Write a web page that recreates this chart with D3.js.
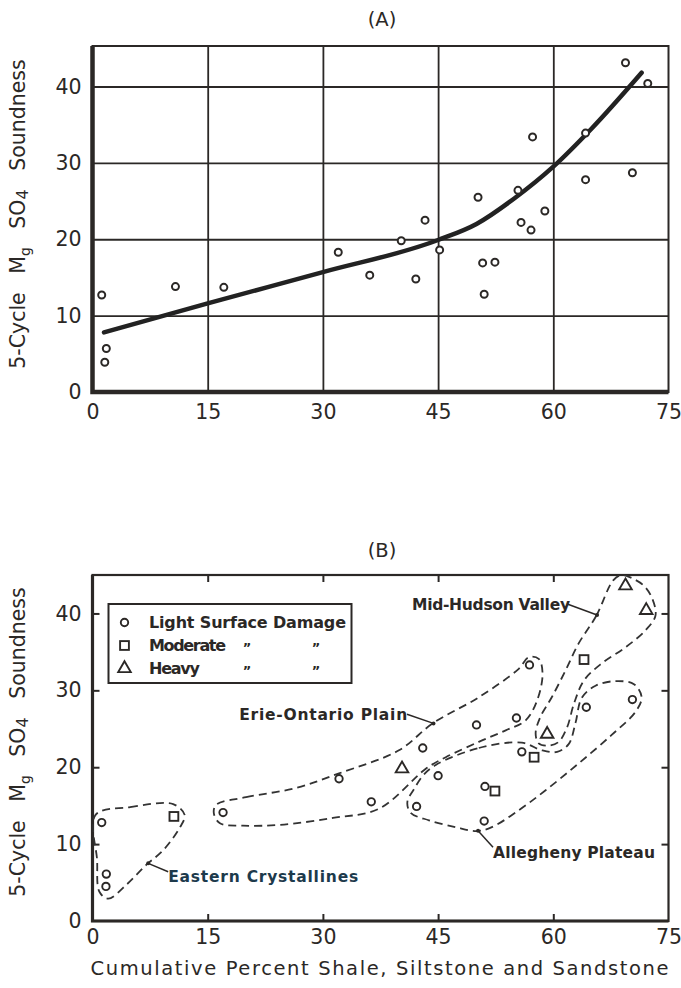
<!DOCTYPE html>
<html>
<head>
<meta charset="utf-8">
<script src="https://cdn.jsdelivr.net/npm/d3@7.9.0/dist/d3.min.js"></script>
<style>
  body { margin: 0; background: #fff; }
  svg { display: block; }
  text { font-family: "DejaVu Sans", sans-serif; fill: #2b2826; }
</style>
</head>
<body>
<div id="chart"></div>
<script>
// ---- data ----
const xTicks = [0, 15, 30, 45, 60, 75];
const yTicks = [0, 10, 20, 30, 40];

// (A) all samples: percent shale etc. vs 5-cycle loss
const samplePct  = [1.2, 1.8, 1.6, 10.8, 17.1, 32.0, 36.1, 40.2, 43.3, 42.1, 45.2, 50.2, 50.8,
                    52.4, 51.0, 57.3, 55.4, 55.8, 57.1, 58.9, 64.2, 64.2, 69.4, 72.3, 70.3];
const sampleLoss = [12.7, 5.7, 3.9, 13.8, 13.7, 18.3, 15.3, 19.8, 22.5, 14.8, 18.6, 25.5, 16.9,
                    17.0, 12.8, 33.4, 26.4, 22.2, 21.2, 23.7, 33.9, 27.8, 43.1, 40.4, 28.7];

// (A) fitted trend curve
const trendPct  = [1.5, 15, 30, 45, 50, 55, 60, 65, 71.5];
const trendLoss = [7.8, 11.6, 15.7, 19.9, 22.0, 25.4, 29.5, 34.5, 41.8];

// (B) samples by surface damage (0 light, 1 moderate, 2 heavy)
const damageNames = ["Light Surface Damage", "Moderate", "Heavy"];
const damagePct   = [1.2, 1.8, 1.75, 17.0, 32.1, 36.3, 43.0, 45.0, 42.2, 50.0, 51.1, 51.0, 56.9,
                     55.2, 55.9, 64.3, 70.3, 10.6, 52.4, 57.5, 64.0, 40.3, 59.2, 69.4, 72.1];
const damageLoss  = [12.8, 6.1, 4.5, 14.1, 18.5, 15.5, 22.5, 18.9, 14.9, 25.5, 17.5, 13.0, 33.3,
                     26.4, 22.0, 27.8, 28.8, 13.6, 16.9, 21.3, 34.0, 19.8, 24.3, 43.6, 40.4];
const damageClass = [0, 0, 0, 0, 0, 0, 0, 0, 0, 0, 0, 0, 0,
                     0, 0, 0, 0, 1, 1, 1, 1, 2, 2, 2, 2];

// (B) physiographic regions, outlines in data units
const regionNames = ["Eastern Crystallines", "Erie-Ontario Plain", "Mid-Hudson Valley", "Allegheny Plateau"];
const easternOutline = [[0.4, 13.8], [4.9, 14.8], [10.5, 15.2], [12.0, 13.8], [11.4, 12.2], [9.2, 9.2],
                        [7.0, 7.3], [4.4, 4.7], [2.05, 2.9], [0.9, 3.8], [0.6, 7.9]];
const erieOutline = [[16.1, 15.1], [20.0, 16.1], [26.5, 17.3], [32.1, 19.2], [39.9, 22.2], [44.3, 25.7],
                     [50.3, 29.1], [55.5, 32.8], [56.8, 34.3], [58.1, 34.1], [58.6, 32.2], [57.9, 28.7],
                     [56.4, 26.1], [53.8, 24.8], [50.3, 23.3], [46.0, 21.3], [43.4, 19.8], [37.3, 14.6],
                     [31.3, 13.4], [24.4, 12.5], [19.6, 12.4], [16.6, 12.7], [15.8, 14.0]];
const hudsonOutline = [[67.8, 44.3], [65.6, 39.7], [63.3, 36.1], [61.6, 32.6], [59.8, 29.1], [58.3, 26.5],
                       [57.7, 24.4], [58.1, 23.1], [59.4, 22.8], [60.7, 23.3], [61.8, 25.2], [62.7, 28.3],
                       [64.0, 31.3], [66.3, 33.5], [69.4, 35.6], [72.0, 37.8], [73.3, 39.7], [72.9, 41.9],
                       [71.8, 43.6], [70.2, 44.6], [68.9, 45.0]];
const alleghenyOutline = [[44.7, 20.3], [50.3, 22.5], [55.9, 23.2], [58.5, 22.2], [60.5, 22.0], [62.0, 23.0],
                          [62.9, 25.8], [63.7, 29.0], [65.5, 30.6], [68.1, 31.2], [70.5, 30.8], [71.5, 29.1],
                          [70.7, 27.2], [67.6, 24.2], [63.3, 20.5], [59.0, 17.0], [55.5, 14.4], [52.0, 12.2],
                          [50.1, 11.7], [47.3, 12.2], [43.8, 13.1], [41.4, 14.1], [41.0, 15.5], [41.9, 17.2],
                          [43.1, 19.0]];
const regionOutlines = [easternOutline, erieOutline, hudsonOutline, alleghenyOutline];
// label start (baseline) and leader line, data units
const labelAt   = [[9.85, 5.07], [19.1, 26.1], [41.6, 40.45], [52.15, 8.2]];
const leaderFrom = [[9.85, 6.4], [40.95, 26.9], [61.9, 41.2], [52.15, 9.6]];
const leaderTo   = [[7.25, 7.5], [44.4, 25.7], [65.7, 39.8], [50.2, 11.75]];
const labelWidth = [190, 168, 158, 162];

// ---- layout ----
const width = 681, height = 988;
const ink = "#2b2826";

const x = d3.scaleLinear().domain([0, 75]).range([92.5, 668.5]);
const yA = d3.scaleLinear().domain([0, 45.3]).range([392, 46]);
const yB = d3.scaleLinear().domain([0, 45]).range([921, 575]);

const svg = d3.select("#chart").append("svg")
  .attr("width", width)
  .attr("height", height);

// tick labels shared style
function styleTickText(g) {
  g.select(".domain").remove();
  g.selectAll("line").remove();
  g.selectAll("text")
    .style("font-size", "20.5px")
    .style("fill", ink)
    .style("font-family", "DejaVu Sans, sans-serif");
}

function yTitle(cy) {
  const t = svg.append("text")
    .attr("transform", `translate(25,${cy}) rotate(-90)`)
    .attr("text-anchor", "middle")
    .style("font-size", "20.5px")
    .style("word-spacing", "12px");
  t.append("tspan").text("5-Cycle M");
  t.append("tspan").text("g").attr("dy", 5).style("font-size", "14px");
  t.append("tspan").text(" SO").attr("dy", -5);
  t.append("tspan").text("4").attr("dy", 3).style("font-size", "16px");
  t.append("tspan").text(" Soundness").attr("dy", -3);
}

// ================= (A) =================
svg.append("text")
  .attr("x", 382).attr("y", 26)
  .attr("text-anchor", "middle")
  .style("font-size", "19.5px")
  .text("(A)");

const gA = svg.append("g");

// grid
gA.append("g")
  .attr("transform", `translate(0,${yA(0)})`)
  .call(d3.axisBottom(x).tickValues(xTicks.slice(1, -1)).tickSize(yA(45.3) - yA(0)).tickFormat(""))
  .call(g => g.select(".domain").remove())
  .call(g => g.selectAll("line").attr("stroke", ink).attr("stroke-width", 1.8));

gA.append("g")
  .attr("transform", `translate(${x(0)},0)`)
  .call(d3.axisLeft(yA).tickValues(yTicks.slice(1)).tickSize(x(0) - x(75)).tickFormat(""))
  .call(g => g.select(".domain").remove())
  .call(g => g.selectAll("line").attr("stroke", ink).attr("stroke-width", 1.8));

// frame
gA.append("rect")
  .attr("x", x(0)).attr("y", yA(45.3))
  .attr("width", x(75) - x(0)).attr("height", yA(0) - yA(45.3))
  .attr("fill", "none").attr("stroke", ink).attr("stroke-width", 2);
gA.append("path")
  .attr("d", `M${x(0)},${yA(45.3)}V${yA(0)}H${x(75)}`)
  .attr("fill", "none").attr("stroke", ink).attr("stroke-width", 4.5);

// axes labels
gA.append("g")
  .attr("transform", `translate(0,${yA(0) + 12})`)
  .call(d3.axisBottom(x).tickValues(xTicks).tickSize(0).tickPadding(0))
  .call(styleTickText);

gA.append("g")
  .attr("transform", `translate(${x(0) - 11},0)`)
  .call(d3.axisLeft(yA).tickValues(yTicks).tickSize(0).tickPadding(0))
  .call(styleTickText);

yTitle(214);

// trend
const trend = trendPct.map((p, i) => [p, trendLoss[i]]);
gA.append("path")
  .datum(trend)
  .attr("fill", "none")
  .attr("stroke", "#222")
  .attr("stroke-width", 4.5)
  .attr("stroke-linecap", "round")
  .attr("d", d3.line().x(d => x(d[0])).y(d => yA(d[1])).curve(d3.curveMonotoneX));

// points
gA.append("g")
  .selectAll("circle")
  .data(samplePct.map((p, i) => [p, sampleLoss[i]]))
  .join("circle")
  .attr("cx", d => x(d[0]))
  .attr("cy", d => yA(d[1]))
  .attr("r", 3.5)
  .attr("fill", "#fff")
  .attr("stroke", ink)
  .attr("stroke-width", 2);

// ================= (B) =================
svg.append("text")
  .attr("x", 382).attr("y", 557)
  .attr("text-anchor", "middle")
  .style("font-size", "19.5px")
  .text("(B)");

const gB = svg.append("g");

svg.append("defs").append("clipPath").attr("id", "clipB")
  .append("rect")
  .attr("x", x(0)).attr("y", yB(45))
  .attr("width", x(75) - x(0)).attr("height", yB(0) - yB(45));

// inner ticks on all four sides
const tickLen = 7;
const inner = xTicks.slice(1, -1);
const innerY = yTicks.slice(1);
gB.append("g")
  .attr("transform", `translate(0,${yB(0)})`)
  .call(d3.axisTop(x).tickValues(inner).tickSize(tickLen).tickFormat(""))
  .call(g => g.select(".domain").remove())
  .call(g => g.selectAll("line").attr("stroke", ink).attr("stroke-width", 2));
gB.append("g")
  .attr("transform", `translate(0,${yB(45)})`)
  .call(d3.axisBottom(x).tickValues(inner).tickSize(tickLen).tickFormat(""))
  .call(g => g.select(".domain").remove())
  .call(g => g.selectAll("line").attr("stroke", ink).attr("stroke-width", 2));
gB.append("g")
  .attr("transform", `translate(${x(0)},0)`)
  .call(d3.axisRight(yB).tickValues(innerY).tickSize(tickLen).tickFormat(""))
  .call(g => g.select(".domain").remove())
  .call(g => g.selectAll("line").attr("stroke", ink).attr("stroke-width", 2));
gB.append("g")
  .attr("transform", `translate(${x(75)},0)`)
  .call(d3.axisLeft(yB).tickValues(innerY).tickSize(tickLen).tickFormat(""))
  .call(g => g.select(".domain").remove())
  .call(g => g.selectAll("line").attr("stroke", ink).attr("stroke-width", 2));

// frame
gB.append("rect")
  .attr("x", x(0)).attr("y", yB(45))
  .attr("width", x(75) - x(0)).attr("height", yB(0) - yB(45))
  .attr("fill", "none").attr("stroke", ink).attr("stroke-width", 2.2);
gB.append("path")
  .attr("d", `M${x(0)},${yB(45)}V${yB(0)}H${x(75)}`)
  .attr("fill", "none").attr("stroke", ink).attr("stroke-width", 3.2);

gB.append("g")
  .attr("transform", `translate(0,${yB(0) + 8})`)
  .call(d3.axisBottom(x).tickValues(xTicks).tickSize(0).tickPadding(0))
  .call(styleTickText);

gB.append("g")
  .attr("transform", `translate(${x(0) - 11},0)`)
  .call(d3.axisLeft(yB).tickValues(yTicks).tickSize(0).tickPadding(0))
  .call(styleTickText);

yTitle(742);

svg.append("text")
  .attr("x", x(0) - 2).attr("y", 975)
  .attr("textLength", 578)
  .attr("lengthAdjust", "spacing")
  .style("font-size", "19.5px")
  .text("Cumulative Percent Shale, Siltstone and Sandstone");

// region outlines
const outline = d3.line()
  .x(d => x(d[0]))
  .y(d => yB(d[1]))
  .curve(d3.curveCatmullRomClosed.alpha(0.5));

gB.append("g")
  .attr("clip-path", "url(#clipB)")
  .selectAll("path")
  .data(regionOutlines)
  .join("path")
  .attr("d", outline)
  .attr("fill", "none")
  .attr("stroke", "#333")
  .attr("stroke-width", 1.8)
  .attr("stroke-dasharray", "8,5");

// region labels + leaders
const regions = regionNames.map((name, i) => ({
  name, at: labelAt[i], from: leaderFrom[i], to: leaderTo[i], w: labelWidth[i]
}));

gB.append("g")
  .selectAll("line")
  .data(regions)
  .join("line")
  .attr("x1", d => x(d.from[0])).attr("y1", d => yB(d.from[1]))
  .attr("x2", d => x(d.to[0])).attr("y2", d => yB(d.to[1]))
  .attr("stroke", ink).attr("stroke-width", 1.5);

gB.append("g")
  .selectAll("circle")
  .data(regions)
  .join("circle")
  .attr("cx", d => x(d.to[0])).attr("cy", d => yB(d.to[1]))
  .attr("r", 2)
  .attr("fill", ink);

gB.append("g")
  .selectAll("text")
  .data(regions)
  .join("text")
  .attr("x", d => x(d.at[0]))
  .attr("y", d => yB(d.at[1]))
  .attr("textLength", d => d.w)
  .attr("lengthAdjust", "spacing")
  .style("font-size", "15.5px")
  .style("font-weight", "bold")
  .style("fill", (d, i) => i === 0 ? "#1d3a4c" : ink)
  .text(d => d.name);

// markers
function drawMarker(sel, cls) {
  if (cls === 0) {
    sel.append("circle").attr("r", 3.7);
  } else if (cls === 1) {
    sel.append("rect").attr("x", -4.4).attr("y", -4.4).attr("width", 8.8).attr("height", 8.8);
  } else {
    sel.append("path").attr("d", d3.symbol(d3.symbolTriangle, 68)());
  }
  sel.selectAll("*")
    .attr("fill", "#fff")
    .attr("stroke", ink)
    .attr("stroke-width", 1.9);
}

const samplesB = damagePct.map((p, i) => ({ p, v: damageLoss[i], c: damageClass[i] }));
gB.append("g")
  .selectAll("g")
  .data(samplesB)
  .join("g")
  .attr("transform", d => `translate(${x(d.p)},${yB(d.v)})`)
  .each(function (d) { drawMarker(d3.select(this), d.c); });

// legend
const legend = gB.append("g");
legend.append("rect")
  .attr("x", 108.5).attr("y", 604)
  .attr("width", 243).attr("height", 79)
  .attr("fill", "#fff").attr("stroke", ink).attr("stroke-width", 2);

const legendRows = [628, 651, 674];
const legendW = [197, 77, 51];
damageNames.forEach((name, i) => {
  const row = legend.append("g").attr("transform", `translate(124.5,${legendRows[i] - 5.5})`);
  drawMarker(row, i);
  legend.append("text")
    .attr("x", 149).attr("y", legendRows[i])
    .attr("textLength", legendW[i])
    .attr("lengthAdjust", "spacing")
    .style("font-size", "16px")
    .style("font-weight", "bold")
    .text(name);
  if (i > 0) {
    [247, 316].forEach(dx => {
      legend.append("text")
        .attr("x", dx).attr("y", legendRows[i] + 1)
        .attr("text-anchor", "middle")
        .style("font-size", "13px")
        .style("font-weight", "bold")
        .style("fill", ink)
        .text("\u201D");
    });
  }
});
</script>
</body>
</html>
